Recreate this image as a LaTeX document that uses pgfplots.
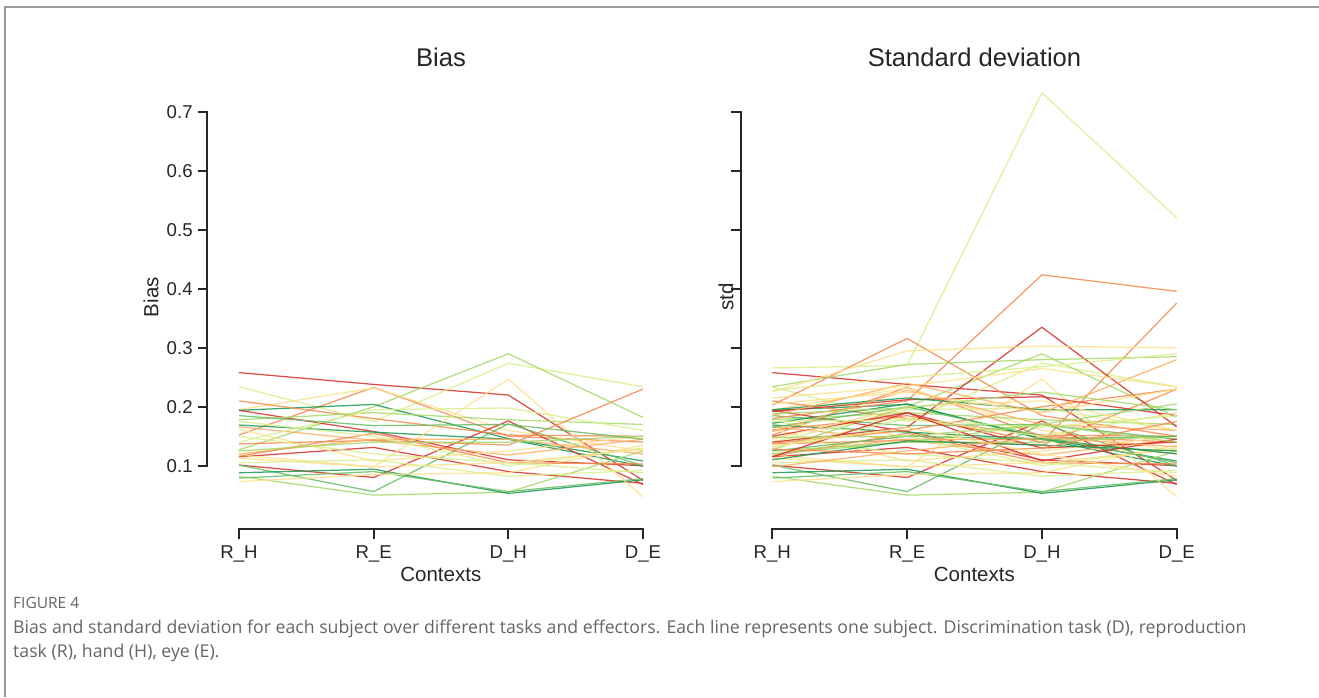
\documentclass[border=0pt]{standalone}
\usepackage{fontspec}
\setmainfont{Liberation Sans}
\newfontfamily\capfont{Open Sans}
\usepackage{pgfplots}
\pgfplotsset{compat=1.18}
\usepackage{pgfplotstable}

\definecolor{axc}{HTML}{262626}
\definecolor{framec}{HTML}{9A9A9A}
\definecolor{capc}{HTML}{666666}
\definecolor{R}{HTML}{D73027}
\definecolor{O}{HTML}{F58A4E}
\definecolor{LO}{HTML}{FDAE61}
\definecolor{Y}{HTML}{FEE08B}
\definecolor{LYG}{HTML}{D9EF8B}
\definecolor{LG}{HTML}{A6D96A}
\definecolor{G}{HTML}{66BD63}
\definecolor{DG}{HTML}{1A9850}

% Bias per subject (columns) over contexts 0=R_H,1=R_E,2=D_H,3=D_E
\pgfplotstableread{
x b1 b2 b3 b4 b5 b6 b7 b8 b9 b10 b11 b12 b13 b14 b15 b16 b17 b18 b19 b20 b21 b22 b23 b24 b25 b26 b27 b28 b29 b30
0 0.258 0.234 0.127 0.152 0.195 0.194 0.194 0.169 0.115 0.101 0.101 0.082 0.088 0.079 0.073 0.210 0.178 0.166 0.162 0.140 0.137 0.118 0.120 0.116 0.150 0.125 0.175 0.113 0.185 0.105
1 0.238 0.175 0.200 0.233 0.232 0.204 0.158 0.157 0.131 0.080 0.056 0.050 0.094 0.090 0.085 0.180 0.190 0.143 0.108 0.195 0.143 0.098 0.145 0.155 0.120 0.140 0.150 0.098 0.168 0.110
2 0.220 0.274 0.290 0.150 0.160 0.146 0.110 0.145 0.090 0.176 0.171 0.055 0.053 0.056 0.088 0.152 0.178 0.118 0.125 0.198 0.135 0.247 0.145 0.105 0.105 0.140 0.100 0.105 0.170 0.082
3 0.075 0.234 0.182 0.140 0.125 0.108 0.100 0.099 0.070 0.068 0.100 0.125 0.076 0.078 0.135 0.150 0.170 0.145 0.150 0.160 0.230 0.047 0.120 0.103 0.088 0.150 0.130 0.128 0.145 0.092
}\biasdata

% Standard deviation per subject
\pgfplotstableread{
x s1 s2 s3 s4 s5 s6 s7 s8 s9 s10 s11 s12 s13 s14 s15 s16 s17 s18 s19 s20 s21 s22 s23 s24 s25 s26 s27 s28 s29 s30
0 0.266 0.180 0.160 0.140 0.203 0.234 0.225 0.228 0.192 0.195 0.172 0.165 0.150 0.138 0.185 0.215 0.120 0.130 0.158 0.145 0.125 0.110 0.175 0.205 0.128 0.115 0.148 0.133 0.188 0.098
1 0.270 0.210 0.185 0.165 0.316 0.272 0.295 0.250 0.212 0.215 0.205 0.200 0.190 0.160 0.240 0.235 0.140 0.180 0.228 0.200 0.150 0.142 0.178 0.225 0.120 0.190 0.150 0.165 0.198 0.125
2 0.733 0.424 0.140 0.335 0.185 0.280 0.303 0.268 0.217 0.195 0.145 0.150 0.130 0.200 0.190 0.265 0.170 0.150 0.170 0.210 0.145 0.135 0.165 0.190 0.130 0.108 0.170 0.120 0.225 0.148
3 0.521 0.396 0.376 0.166 0.150 0.285 0.300 0.290 0.185 0.195 0.120 0.105 0.140 0.230 0.280 0.234 0.205 0.190 0.160 0.160 0.150 0.125 0.185 0.230 0.175 0.145 0.140 0.082 0.195 0.132
}\stddata

\newcommand{\ticksize}{\fontsize{18.6pt}{22pt}\selectfont}
\newcommand{\labsize}{\fontsize{20.5pt}{24pt}\selectfont}
\newcommand{\titsize}{\fontsize{25.6pt}{30pt}\selectfont}

\pgfplotsset{
  ln/.style={line width=1.25pt, opacity=0.85, mark=none},
  panel/.style={
    scale only axis, height=446.45pt,
    xmin=-0.235, xmax=3, ymin=-0.008, ymax=0.75,
    clip=false,
    axis line style={draw=none},
    xtick={0,1,2,3}, xticklabels={R\_H,R\_E,D\_H,D\_E},
    ytick={0.1,0.2,0.3,0.4,0.5,0.6,0.7},
    tick align=outside, xtick pos=left, ytick pos=left,
    major tick length=9.5pt,
    every tick/.style={draw=axc, line width=2pt},
    tick label style={font=\ticksize, text=axc},
    yticklabel style={inner sep=0pt, xshift=-5pt},
    xticklabel style={inner sep=0pt, yshift=-6.5pt},
    label style={font=\labsize, text=axc},
    xlabel={Contexts},
    xlabel style={at={(axis description cs:0.536,-0.100)}, anchor=center},
    /pgf/number format/.cd, fixed, fixed zerofill, precision=1, assume math mode=true,
  }
}

\newcommand{\spines}{%
  \draw[axc, line width=2pt, line cap=rect] (axis cs:-0.235,0.1) -- (axis cs:-0.235,0.7);
  \draw[axc, line width=2pt, line cap=rect] (axis cs:0,-0.008) -- (axis cs:3,-0.008);
}

\newcommand{\biaslines}{%
  \addplot[ln,R]   table[x=x,y=b1]{\biasdata};
  \addplot[ln,LYG] table[x=x,y=b2]{\biasdata};
  \addplot[ln,LG]  table[x=x,y=b3]{\biasdata};
  \addplot[ln,O]   table[x=x,y=b4]{\biasdata};
  \addplot[ln,Y]   table[x=x,y=b5]{\biasdata};
  \addplot[ln,DG]  table[x=x,y=b6]{\biasdata};
  \addplot[ln,R]   table[x=x,y=b7]{\biasdata};
  \addplot[ln,DG]  table[x=x,y=b8]{\biasdata};
  \addplot[ln,R]   table[x=x,y=b9]{\biasdata};
  \addplot[ln,R]   table[x=x,y=b10]{\biasdata};
  \addplot[ln,G]   table[x=x,y=b11]{\biasdata};
  \addplot[ln,LG]  table[x=x,y=b12]{\biasdata};
  \addplot[ln,DG]  table[x=x,y=b13]{\biasdata};
  \addplot[ln,G]   table[x=x,y=b14]{\biasdata};
  \addplot[ln,Y]   table[x=x,y=b15]{\biasdata};
  \addplot[ln,O]   table[x=x,y=b16]{\biasdata};
  \addplot[ln,LG]  table[x=x,y=b17]{\biasdata};
  \addplot[ln,LO]  table[x=x,y=b18]{\biasdata};
  \addplot[ln,Y]   table[x=x,y=b19]{\biasdata};
  \addplot[ln,LYG] table[x=x,y=b20]{\biasdata};
  \addplot[ln,O]   table[x=x,y=b21]{\biasdata};
  \addplot[ln,Y]   table[x=x,y=b22]{\biasdata};
  \addplot[ln,LO]  table[x=x,y=b23]{\biasdata};
  \addplot[ln,O]   table[x=x,y=b24]{\biasdata};
  \addplot[ln,LYG] table[x=x,y=b25]{\biasdata};
  \addplot[ln,LG]  table[x=x,y=b26]{\biasdata};
  \addplot[ln,LYG] table[x=x,y=b27]{\biasdata};
  \addplot[ln,Y]   table[x=x,y=b28]{\biasdata};
  \addplot[ln,G]   table[x=x,y=b29]{\biasdata};
  \addplot[ln,LYG] table[x=x,y=b30]{\biasdata};
}

\begin{document}
\begin{tikzpicture}
\useasboundingbox (0pt,0pt) rectangle (1319pt,697pt);
\fill[white] (0pt,0pt) rectangle (1319pt,697pt);
\draw[framec, line width=1.3pt] (5pt,0pt) -- (5pt,690pt) -- (1319pt,690pt);

\begin{axis}[panel, at={(207.3pt,167.7pt)}, anchor=south west, width=435.7pt,
  ylabel={Bias},
  ylabel style={at={(axis description cs:-0.129,0.52)}, anchor=center}]
  \biaslines
  \spines
  \node[font=\titsize, text=axc] at (axis cs:1.5,0.794) {Bias};
\end{axis}

\begin{axis}[panel, at={(740.6pt,167.7pt)}, anchor=south west, width=436.1pt,
  yticklabels={,,,,,,},
  ylabel={std},
  ylabel style={at={(axis description cs:-0.0335,0.52)}, anchor=center}]
  \biaslines
  \addplot[ln,LYG] table[x=x,y=s1]{\stddata};
  \addplot[ln,O]   table[x=x,y=s2]{\stddata};
  \addplot[ln,O]   table[x=x,y=s3]{\stddata};
  \addplot[ln,R]   table[x=x,y=s4]{\stddata};
  \addplot[ln,O]   table[x=x,y=s5]{\stddata};
  \addplot[ln,LG]  table[x=x,y=s6]{\stddata};
  \addplot[ln,Y]   table[x=x,y=s7]{\stddata};
  \addplot[ln,LYG] table[x=x,y=s8]{\stddata};
  \addplot[ln,R]   table[x=x,y=s9]{\stddata};
  \addplot[ln,DG]  table[x=x,y=s10]{\stddata};
  \addplot[ln,DG]  table[x=x,y=s11]{\stddata};
  \addplot[ln,G]   table[x=x,y=s12]{\stddata};
  \addplot[ln,R]   table[x=x,y=s13]{\stddata};
  \addplot[ln,O]   table[x=x,y=s14]{\stddata};
  \addplot[ln,LO]  table[x=x,y=s15]{\stddata};
  \addplot[ln,Y]   table[x=x,y=s16]{\stddata};
  \addplot[ln,LG]  table[x=x,y=s17]{\stddata};
  \addplot[ln,LYG] table[x=x,y=s18]{\stddata};
  \addplot[ln,LO]  table[x=x,y=s19]{\stddata};
  \addplot[ln,Y]   table[x=x,y=s20]{\stddata};
  \addplot[ln,G]   table[x=x,y=s21]{\stddata};
  \addplot[ln,DG]  table[x=x,y=s22]{\stddata};
  \addplot[ln,LYG] table[x=x,y=s23]{\stddata};
  \addplot[ln,Y]   table[x=x,y=s24]{\stddata};
  \addplot[ln,O]   table[x=x,y=s25]{\stddata};
  \addplot[ln,R]   table[x=x,y=s26]{\stddata};
  \addplot[ln,LG]  table[x=x,y=s27]{\stddata};
  \addplot[ln,Y]   table[x=x,y=s28]{\stddata};
  \addplot[ln,LG]  table[x=x,y=s29]{\stddata};
  \addplot[ln,LO]  table[x=x,y=s30]{\stddata};
  \spines
  \node[font=\titsize, text=axc] at (axis cs:1.5,0.794) {Standard deviation};
\end{axis}

\node[anchor=base west, inner sep=0pt, text=capc, font=\capfont\fontsize{15.5pt}{18pt}\selectfont] at (13pt,89pt) {FIGURE 4};
\node[anchor=base west, inner sep=0pt, text=capc, font=\capfont\fontsize{17.7pt}{22pt}\selectfont] at (13pt,64pt) {Bias and standard deviation for each subject over different tasks and effectors. Each line represents one subject. Discrimination task (D), reproduction};
\node[anchor=base west, inner sep=0pt, text=capc, font=\capfont\fontsize{17.7pt}{22pt}\selectfont] at (13pt,40pt) {task (R), hand (H), eye (E).};
\end{tikzpicture}
\end{document}
